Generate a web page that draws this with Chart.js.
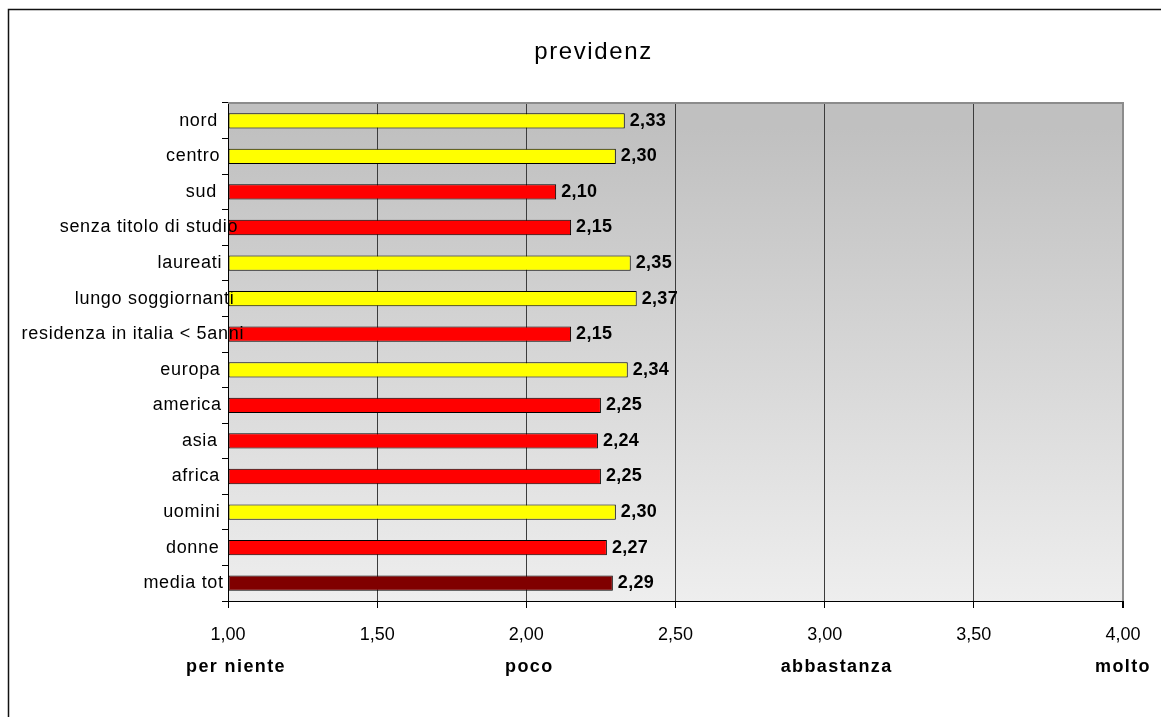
<!DOCTYPE html>
<html lang="it">
<head>
<meta charset="utf-8">
<title>previdenz</title>
<script src="https://cdn.jsdelivr.net/npm/chart.js@4.4.1/dist/chart.umd.min.js"></script>
<style>
  html, body { margin: 0; padding: 0; background: #fff; overflow: hidden; }
</style>
</head>
<body>
<canvas id="chart-previdenz" width="1161" height="717"></canvas>
<script>
'use strict';

// ====================
//  Dati
// ====================
const titolo = 'previdenz';

const categorie = [
  'nord',
  'centro',
  'sud',
  'senza titolo di studio',
  'laureati',
  'lungo soggiornanti',
  'residenza in italia < 5anni',
  'europa',
  'america',
  'asia',
  'africa',
  'uomini',
  'donne',
  'media tot'
];

const valori = [2.33, 2.30, 2.10, 2.15, 2.35, 2.37, 2.15, 2.34, 2.25, 2.24, 2.25, 2.30, 2.27, 2.29];

// scala di risposta: 1 = per niente ... 4 = molto
const etichetteScala = ['per niente', 'poco', 'abbastanza', 'molto'];
const valoriScala = [1, 2, 3, 4];
const tickAsse = [1, 1.5, 2, 2.5, 3, 3.5, 4];

const FONT = '"Liberation Sans", Arial, sans-serif';
const indiceMedia = categorie.indexOf('media tot');

function formattaNumero(v) {
  return Number(v).toFixed(2).replace('.', ',');
}

// giallo sopra la media, rosso sotto, bordeaux per la media stessa
function coloreBarra(ctx) {
  const i = ctx.dataIndex;
  if (i === indiceMedia) return '#800000';
  return valori[i] > valori[indiceMedia] ? '#ffff00' : '#ff0000';
}

const pluginDecorazioni = {
  id: 'decorazioni',
  beforeDraw: function (chart) {
    const ctx = chart.ctx;
    const a = chart.chartArea;
    ctx.save();
    ctx.fillStyle = '#ffffff';
    ctx.fillRect(0, 0, chart.width, chart.height);

    // cornice esterna
    ctx.strokeStyle = '#111111';
    ctx.lineWidth = 1.5;
    ctx.strokeRect(8.5, 9.5, chart.width + 20, chart.height + 20);

    // sfondo sfumato dell'area del grafico
    const g = ctx.createLinearGradient(0, a.top + 25, 0, a.bottom);
    g.addColorStop(0, '#c0c0c0');
    g.addColorStop(1, '#eeeeee');
    ctx.fillStyle = g;
    ctx.fillRect(a.left, a.top, a.right - a.left, a.bottom - a.top);
    ctx.restore();
  },
  afterDraw: function (chart) {
    const ctx = chart.ctx;
    const a = chart.chartArea;
    const ys = chart.scales.y;
    const xs = chart.scales.x;
    const meta = chart.getDatasetMeta(0);

    ctx.save();

    // bordo grigio superiore
    ctx.strokeStyle = '#8c8c8c';
    ctx.lineWidth = 2;
    ctx.beginPath();
    ctx.moveTo(a.left, a.top);
    ctx.lineTo(a.right + 1, a.top);
    ctx.stroke();

    ctx.fillStyle = '#000000';

    // titolo
    ctx.font = '24px ' + FONT;
    ctx.letterSpacing = '1.6px';
    ctx.textAlign = 'center';
    ctx.textBaseline = 'alphabetic';
    ctx.fillText(titolo, chart.width / 2 + 13, 59);

    // etichette categorie (spaziate, possono sconfinare nell'area)
    ctx.font = '18px ' + FONT;
    ctx.textAlign = 'left';
    ctx.textBaseline = 'middle';
    categorie.forEach(function (nome, i) {
      ctx.letterSpacing = '0px';
      const w = ctx.measureText(nome).width;
      ctx.letterSpacing = '0.7px';
      ctx.fillText(nome, ys.right - 15 - w * 0.94, ys.getPixelForValue(i));
    });

    // valori a fianco delle barre
    ctx.font = 'bold 18px ' + FONT;
    ctx.letterSpacing = '0.3px';
    meta.data.forEach(function (bar, i) {
      ctx.fillText(formattaNumero(valori[i]), bar.x + 5, bar.y);
    });

    // etichette della scala sotto l'asse
    const spostamenti = [8, 3, 12, 0];
    ctx.letterSpacing = '1.4px';
    ctx.textAlign = 'center';
    etichetteScala.forEach(function (testo, i) {
      ctx.fillText(testo, xs.getPixelForValue(valoriScala[i]) + spostamenti[i], xs.top + 66);
    });

    ctx.restore();
  }
};

const canvas = document.getElementById('chart-previdenz');

new Chart(canvas.getContext('2d'), {
  type: 'bar',
  data: {
    labels: categorie,
    datasets: [{
      data: valori,
      base: tickAsse[0],
      backgroundColor: coloreBarra,
      borderColor: '#000000',
      borderWidth: 1,
      borderSkipped: false,
      barPercentage: 0.43,
      categoryPercentage: 1
    }]
  },
  options: {
    indexAxis: 'y',
    responsive: false,
    animation: false,
    layout: { padding: { top: 103, right: 38, bottom: 0, left: 0 } },
    plugins: {
      legend: { display: false },
      tooltip: { enabled: false },
      title: { display: false }
    },
    scales: {
      x: {
        min: tickAsse[0],
        max: tickAsse[tickAsse.length - 1],
        afterBuildTicks: function (s) {
          s.ticks = tickAsse.map(function (v) { return { value: v }; });
        },
        ticks: {
          callback: function (v) { return formattaNumero(v); },
          font: { family: FONT, size: 18 },
          color: '#000000',
          padding: 16,
          maxRotation: 0,
          autoSkip: false
        },
        grid: {
          color: function (c) {
            return c.tick && c.tick.value === 4 ? '#8c8c8c' : '#3c3c3c';
          },
          lineWidth: function (c) {
            return c.tick && c.tick.value === 4 ? 2 : 1;
          },
          drawTicks: true,
          tickLength: 7,
          tickColor: '#000000'
        },
        border: { display: true, color: '#000000', width: 1 },
        afterFit: function (s) { s.height = 116; }
      },
      y: {
        ticks: { display: false },
        grid: {
          offset: true,
          drawOnChartArea: false,
          drawTicks: true,
          tickLength: 6,
          color: '#000000'
        },
        border: { display: true, color: '#000000', width: 1 },
        afterFit: function (s) { s.width = 228; }
      }
    }
  },
  plugins: [pluginDecorazioni]
});
</script>
</body>
</html>
